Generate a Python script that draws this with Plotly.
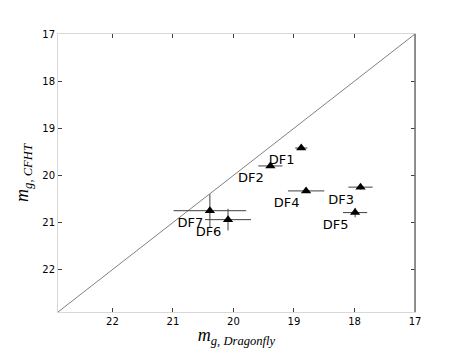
"""Dragonfly vs CFHT g-band magnitude comparison."""

import plotly.graph_objects as go

names = ["DF1", "DF2", "DF3", "DF4", "DF5", "DF6", "DF7"]
mag_dragonfly = [18.88, 19.39, 17.90, 18.80, 17.99, 20.09, 20.39]
mag_dragonfly_err = [0.10, 0.20, 0.20, 0.30, 0.20, 0.38, 0.60]
mag_cfht = [19.42, 19.80, 20.25, 20.33, 20.79, 20.94, 20.75]
mag_cfht_err = [0.03, 0.03, 0.05, 0.03, 0.10, 0.23, 0.35]

one_to_one = [22.9, 17.0]

fig = go.Figure()

fig.add_trace(go.Scatter(x=one_to_one, y=one_to_one, mode="lines",
                         line=dict(color="#808080", width=1), hoverinfo="skip"))

fig.add_trace(go.Scatter(
    x=mag_dragonfly, y=mag_cfht, mode="markers+text",
    text=names, textposition="bottom left",
    textfont=dict(family="DejaVu Sans", size=13, color="black"),
    marker=dict(symbol="triangle-up", size=9, color="black"),
    error_x=dict(type="data", array=mag_dragonfly_err, color="#404040", thickness=1, width=0),
    error_y=dict(type="data", array=mag_cfht_err, color="#404040", thickness=1, width=0),
))

axis_style = dict(showgrid=False, zeroline=False, showline=True, linecolor="#d8d8d8",
                  linewidth=1, mirror="allticks", ticks="inside", ticklen=4,
                  tickcolor="#404040", tickfont=dict(family="DejaVu Sans", size=10, color="black"))

fig.update_xaxes(range=[22.9, 17], tickvals=[22, 21, 20, 19, 18, 17],
                 title=dict(text="<i>m</i><sub><i>g, Dragonfly</i></sub>",
                            font=dict(family="Liberation Serif", size=18, color="black"),
                            standoff=0),
                 automargin=False, **axis_style)
fig.update_yaxes(range=[22.9, 17], tickvals=[17, 18, 19, 20, 21, 22],
                 title=dict(text="<i>m</i><sub><i>g, CFHT</i></sub>",
                            font=dict(family="Liberation Serif", size=18, color="black"),
                            standoff=8),
                 automargin=False, **axis_style)

# darker right-hand spine as in the original
fig.add_shape(type="line", xref="paper", yref="paper", x0=1, x1=1, y0=0, y1=1,
              line=dict(color="#707070", width=1.5))

fig.update_layout(width=455, height=340, showlegend=False,
                  plot_bgcolor="white", paper_bgcolor="white",
                  margin=dict(l=50, r=48, t=26, b=36))

fig.write_html("out.html")
